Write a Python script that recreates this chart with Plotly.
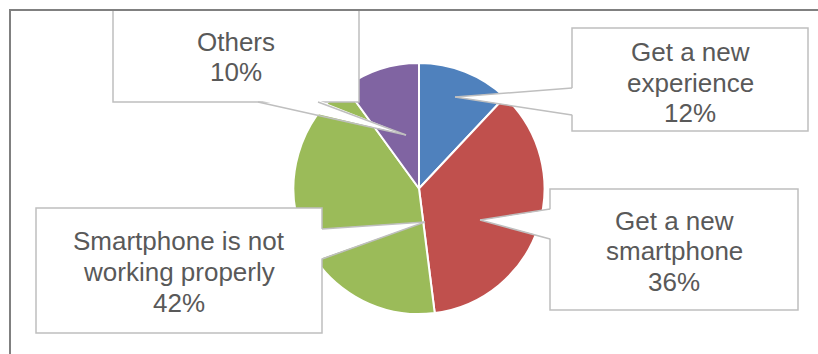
import plotly.graph_objects as go

# ---- data ----
categories = ["Get a new experience", "Get a new smartphone",
              "Smartphone is not working properly", "Others"]
values = [12, 36, 42, 10]
label_lines = [["Get a new", "experience"], ["Get a new", "smartphone"],
               ["Smartphone is not", "working properly"], ["Others"]]
colors = ["#4f81bd", "#c0504d", "#9bbb59", "#8064a2"]

W, H = 818, 354


def px(x):
    return x / W


def py(y):
    return 1 - y / H


fig = go.Figure(go.Pie(
    labels=categories, values=values, sort=False, direction="clockwise",
    rotation=0, textinfo="none", hoverinfo="label+percent",
    marker=dict(colors=colors, line=dict(color="white", width=2)),
    domain=dict(x=[px(293), px(545)], y=[py(314), py(63)]),
    showlegend=False,
))

# callout layout: box (x0, y0, x1, y1), wedge base points, tip  (pixels)
callouts = [
    dict(box=(572, 28, 808, 131), b1=(572, 88), b2=(572, 115), tip=(455, 97), side="v", dy=2),
    dict(box=(550, 189, 798, 310), b1=(550, 209), b2=(550, 239), tip=(480, 220), side="v", dy=0.5),
    dict(box=(36, 208, 322, 333), b1=(322, 229), b2=(322, 259), tip=(425, 222), side="v", dy=0.5),
    dict(box=(113, 10, 359, 102), b1=(258, 102), b2=(318, 102), tip=(406, 135), side="h", dy=0),
]

shapes = []
annotations = []
box_line = "#bfbfbf"
line_gap = 30.5
font = dict(family="Liberation Sans, Arial, sans-serif", size=26, color="#595959")
total = sum(values)
for lines, val, c in zip(label_lines, values, callouts):
    x0, y0, x1, y1 = c["box"]
    shapes.append(dict(type="rect", xref="paper", yref="paper",
                       x0=px(x0), x1=px(x1), y0=py(y1), y1=py(y0),
                       fillcolor="white", line=dict(color=box_line, width=1.5),
                       layer="above"))
    (bx1, by1), (bx2, by2), (tx, ty) = c["b1"], c["b2"], c["tip"]
    if c["side"] == "v":
        d = 2 if bx1 > tx else -2
        ex1, ey1, ex2, ey2 = bx1 + d, by1, bx2 + d, by2
    else:
        d = -2
        ex1, ey1, ex2, ey2 = bx1, by1 + d, bx2, by2 + d
    path = (f"M {px(ex1)} {py(ey1)} L {px(tx)} {py(ty)} "
            f"L {px(ex2)} {py(ey2)} Z")
    shapes.append(dict(type="path", xref="paper", yref="paper", path=path,
                       fillcolor="white", line=dict(width=0), layer="above"))
    for (bx, by) in [(bx1, by1), (bx2, by2)]:
        shapes.append(dict(type="line", xref="paper", yref="paper",
                           x0=px(bx), y0=py(by), x1=px(tx), y1=py(ty),
                           line=dict(color=box_line, width=1.5), layer="above"))
    pct = round(100 * val / total)
    all_lines = lines + [f"{pct}%"]
    n = len(all_lines)
    cy = (y0 + y1) / 2 + c["dy"] + 1
    cx = (x0 + x1) / 2
    for i, t in enumerate(all_lines):
        yy = cy + (i - (n - 1) / 2) * line_gap
        annotations.append(dict(
            xref="paper", yref="paper", x=px(cx), y=py(yy), text=t,
            showarrow=False, xanchor="center", yanchor="middle",
            align="center", font=font))

# chart area border (top and left visible)
shapes.append(dict(type="line", xref="paper", yref="paper",
                   x0=px(9), x1=1.0, y0=py(10), y1=py(10),
                   line=dict(color="#808080", width=2), layer="above"))
shapes.append(dict(type="line", xref="paper", yref="paper",
                   x0=px(10), x1=px(10), y0=py(9), y1=0,
                   line=dict(color="#808080", width=2), layer="above"))

fig.update_layout(width=W, height=H, autosize=False,
                  margin=dict(l=0, r=0, t=0, b=0),
                  paper_bgcolor="white", plot_bgcolor="white",
                  shapes=shapes, annotations=annotations)

fig.write_html("out.html")
